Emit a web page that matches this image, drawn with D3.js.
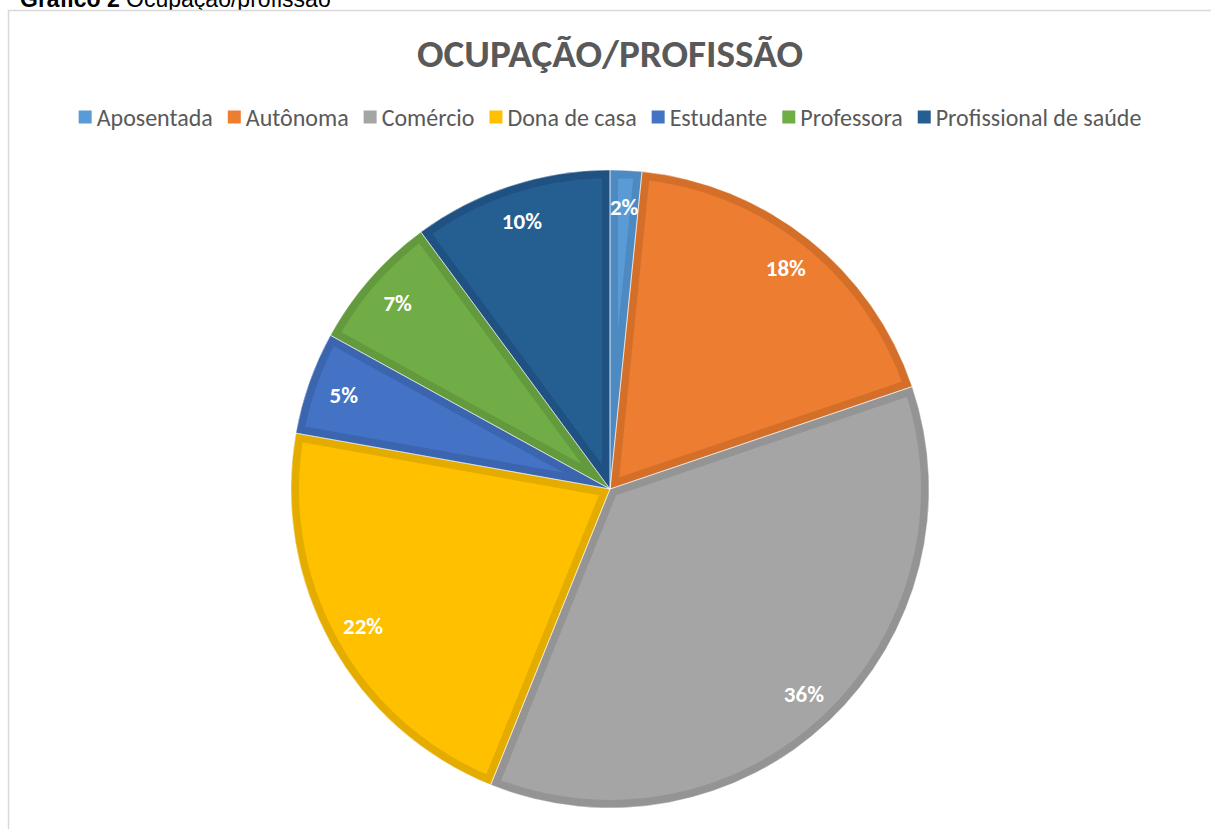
<!DOCTYPE html>
<html>
<head>
<meta charset="utf-8">
<script src="https://cdn.jsdelivr.net/npm/d3@7"></script>
<style>
  body { margin: 0; background: #fff; }
  svg { display: block; }
</style>
</head>
<body>
<div id="chart"></div>
<script>
// DATA (percent of answers)
var categories = ["Aposentada", "Autônoma", "Comércio", "Dona de casa", "Estudante", "Professora", "Profissional de saúde"];
var values = [1.6, 18.2, 36.3, 21.7, 5.2, 6.9, 10.1];
var labels = ["2%", "18%", "36%", "22%", "5%", "7%", "10%"];
var fills = ["#5B9BD5", "#ED7D31", "#A5A5A5", "#FFC000", "#4472C4", "#70AD47", "#255E91"];
var borders = ["#4E8AC2", "#D46F2A", "#949494", "#E5AC00", "#3C65AF", "#639A3E", "#1F5282"];

var width = 1211, height = 829;
var cx = 610, cy = 489, radius = 319;
var font = "Carlito, Lato, 'Open Sans', sans-serif";

var svg = d3.select("#chart").append("svg")
	.attr("width", width)
	.attr("height", height);

// header above the chart box (cut at top, as in the picture)
var head = svg.append("text")
	.attr("x", 20)
	.attr("y", 7)
	.style("font-family", "'Liberation Sans', Arial, sans-serif")
	.style("font-size", "23px")
	.style("fill", "#000");
head.append("tspan").style("font-weight", "bold").text("Gráfico 2 ");
head.append("tspan").text("Ocupação/profissão");

// chart box
svg.append("rect")
	.attr("x", 8.5).attr("y", 10.5)
	.attr("width", 1240).attr("height", 900)
	.attr("fill", "#fff")
	.attr("stroke", "#d9d9d9")
	.attr("stroke-width", 1.5);

// TITLE
var title = svg.append("text")
	.attr("x", cx)
	.attr("y", 67)
	.attr("text-anchor", "middle")
	.style("font-family", font)
	.style("font-weight", "bold")
	.style("font-size", "34px")
	.style("fill", "#595959")
	.text("OCUPAÇÃO/PROFISSÃO");
// fit title to its width in the picture
var tw = title.node().getComputedTextLength();
title.style("font-size", (34 * 386 / tw) + "px");

// LEGEND
var legend = svg.append("g");
var legFont = 20, sq = 13, sqGap = 5, itemGap = 15;
var items = legend.selectAll("g")
	.data(categories)
	.enter().append("g");
items.append("rect")
	.attr("width", sq).attr("height", sq)
	.attr("y", -sq / 2 - 1)
	.attr("fill", function (d, i) { return fills[i]; });
items.append("text")
	.attr("x", sq + sqGap)
	.attr("y", 0)
	.attr("dy", "0.35em")
	.style("font-family", font)
	.style("font-size", legFont + "px")
	.style("fill", "#595959")
	.text(function (d) { return d; });

function layoutLegend() {
	var xs = [], x = 0;
	items.each(function () {
		var w = d3.select(this).select("text").node().getComputedTextLength();
		xs.push(x);
		x += sq + sqGap + w + itemGap;
	});
	return { xs: xs, total: x - itemGap };
}
var lay = layoutLegend();
// scale font so legend spans like the picture (x 83 .. 1146)
var target = 1063;
var textPart = lay.total - 7 * (sq + sqGap) - 6 * itemGap;
var wantText = target - 7 * (sq + sqGap) - 6 * itemGap;
legFont = legFont * wantText / textPart;
items.selectAll("text").style("font-size", legFont + "px");
lay = layoutLegend();
var lx0 = cx - lay.total / 2;
items.attr("transform", function (d, i) { return "translate(" + (lx0 + lay.xs[i]) + ",118)"; });

// PIE
var pie = d3.pie().sort(null).value(function (d) { return d; });
var arcs = pie(values);
var arc = d3.arc().innerRadius(0).outerRadius(radius);
var labelArc = d3.arc().innerRadius(radius * 0.885).outerRadius(radius * 0.885);

var defs = svg.append("defs");
defs.selectAll("clipPath")
	.data(arcs)
	.enter().append("clipPath")
	.attr("id", function (d, i) { return "clip" + i; })
	.append("path")
	.attr("d", arc);

var g = svg.append("g").attr("transform", "translate(" + cx + "," + cy + ")");

// slices, border drawn inside each slice (clipped)
g.selectAll("path.slice")
	.data(arcs)
	.enter().append("path")
	.attr("class", "slice")
	.attr("d", arc)
	.attr("clip-path", function (d, i) { return "url(#clip" + i + ")"; })
	.attr("fill", function (d, i) { return fills[i]; })
	.attr("stroke", function (d, i) { return borders[i]; })
	.attr("stroke-width", 16)
	.attr("stroke-linejoin", "miter");

// thin separators
g.selectAll("path.sep")
	.data(arcs)
	.enter().append("path")
	.attr("class", "sep")
	.attr("d", arc)
	.attr("fill", "none")
	.attr("stroke", "#fff")
	.attr("stroke-opacity", 0.6)
	.attr("stroke-width", 0.8);

// data labels
g.selectAll("text.lbl")
	.data(arcs)
	.enter().append("text")
	.attr("class", "lbl")
	.attr("transform", function (d) { return "translate(" + labelArc.centroid(d) + ")"; })
	.attr("text-anchor", "middle")
	.attr("dy", "0.35em")
	.style("font-family", font)
	.style("font-weight", "bold")
	.style("font-size", "23px")
	.style("fill", "#fff")
	.text(function (d, i) { return labels[i]; });
</script>
</body>
</html>
